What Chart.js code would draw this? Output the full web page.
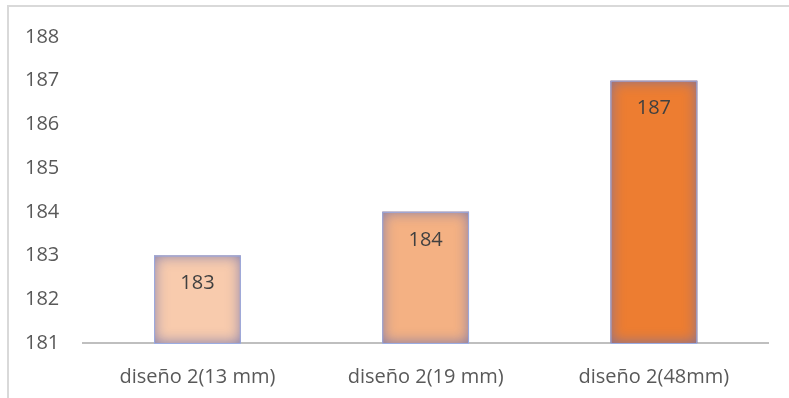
<!DOCTYPE html>
<html lang="es">
<head>
<meta charset="UTF-8">
<script src="https://cdn.jsdelivr.net/npm/chart.js"></script>
<title>diseño 2</title>
<style>
    html, body { margin: 0; background: #fff; overflow: hidden; }
    #frame {
        position: absolute; left: 7px; top: 5px; width: 800px; height: 420px;
        border-left: 2px solid #d9d9d9; border-top: 2px solid #d9d9d9;
    }
    #wrap { position: absolute; left: 0; top: 0; width: 789px; height: 411px; }
</style>
</head>
<body>
<div id="frame"></div>
<div id="wrap"><canvas id="chart"></canvas></div>
<script>
    const categories = ['diseño 2(13 mm)', 'diseño 2(19 mm)', 'diseño 2(48mm)'];
    const values = [183, 184, 187];
    const barColors = ['#F8CBAD', '#F4B183', '#ED7D31'];
    const yMin = 181, yMax = 188;
    const fontFamily = '"Open Sans", "Noto Sans", sans-serif';

    // soft bluish inner glow round each bar (shadow of a frame drawn outside, clipped to the bar)
    const innerGlow = {
        id: 'innerGlow',
        afterDatasetsDraw(chart) {
            const ctx = chart.ctx;
            const bottom = chart.chartArea.bottom;
            chart.getDatasetMeta(0).data.forEach(bar => {
                const left = bar.x - bar.width / 2, top = bar.y;
                const w = bar.width, h = Math.min(bar.base, bottom) - bar.y;
                ctx.save();
                ctx.beginPath();
                ctx.rect(left, top, w, h);
                ctx.clip();
                ctx.shadowColor = 'rgba(105,110,175,0.85)';
                ctx.shadowBlur = 14;
                ctx.strokeStyle = 'rgba(105,110,175,1)';
                ctx.lineWidth = 20;
                ctx.strokeRect(left - 10, top - 10, w + 20, h + 20);
                ctx.restore();
                ctx.save();
                ctx.strokeStyle = 'rgba(150,170,230,0.9)';
                ctx.lineWidth = 1;
                ctx.strokeRect(left + 0.5, top + 0.5, w - 1, h);
                ctx.restore();
            });
        }
    };

    // value labels inside the top of each bar
    const valueLabels = {
        id: 'valueLabels',
        afterDatasetsDraw(chart) {
            const ctx = chart.ctx;
            ctx.save();
            ctx.font = '20px ' + fontFamily;
            ctx.fillStyle = '#404040';
            ctx.textAlign = 'center';
            ctx.textBaseline = 'middle';
            chart.getDatasetMeta(0).data.forEach((bar, i) => {
                ctx.fillText(values[i], bar.x, bar.y + 28);
            });
            ctx.restore();
        }
    };

    new Chart(document.getElementById('chart'), {
        type: 'bar',
        data: {
            labels: categories,
            datasets: [{
                data: values,
                backgroundColor: barColors,
                borderWidth: 0,
                barPercentage: 0.38,
                categoryPercentage: 1
            }]
        },
        options: {
            responsive: true,
            maintainAspectRatio: false,
            animation: false,
            layout: { padding: { left: 1, right: 21, top: 37, bottom: 0 } },
            plugins: { legend: { display: false }, tooltip: { enabled: false } },
            scales: {
                x: {
                    grid: { display: false, drawTicks: false },
                    border: { display: true, color: '#bfbfbf', width: 2 },
                    ticks: { color: '#595959', padding: 22, font: { family: fontFamily, size: 20 } }
                },
                y: {
                    min: yMin, max: yMax,
                    grid: { display: false, drawTicks: false },
                    border: { display: false },
                    ticks: { stepSize: 1, color: '#595959', padding: 24, font: { family: fontFamily, size: 20 } }
                }
            }
        },
        plugins: [innerGlow, valueLabels]
    });
</script>
</body>
</html>
